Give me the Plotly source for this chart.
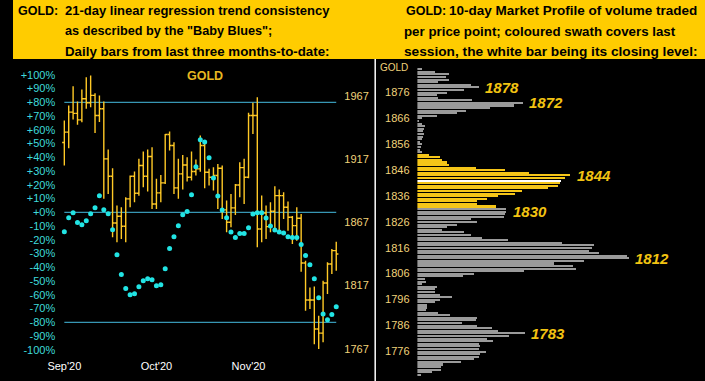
import plotly.graph_objects as go

W, H = 705, 381


def px_x(p):
    return p / W


def px_y(p):
    return 1 - p / H


# ---------------- Left panel data ----------------
bar_open = [1930.0, 1938.2, 1954.0, 1953.0, 1947.9, 1964.5, 1961.4, 1967.2, 1951.3, 1956.6,
            1917.1, 1903.4, 1866.5, 1871.8, 1863.9, 1885.5, 1903.4, 1889.9, 1911.8, 1903.4,
            1918.9, 1881.5, 1890.2, 1898.1, 1936.3, 1927.6, 1894.2, 1905.2, 1912.3, 1902.6,
            1907.1, 1909.2, 1927.6, 1906.5, 1902.6, 1903.9, 1909.7, 1876.8, 1867.0, 1878.4,
            1896.5, 1910.2, 1902.6, 1951.3, 1951.3, 1861.7, 1874.4, 1863.6, 1875.7, 1888.1,
            1888.1, 1878.9, 1871.0, 1864.4, 1870.2, 1834.9, 1805.6, 1805.6, 1782.7, 1779.5,
            1819.1, 1834.1, 1844.6]
bar_high = [1947.4, 1959.2, 1974.5, 1962.4, 1971.9, 1981.6, 1983.0, 1968.9, 1967.2, 1962.4,
            1924.5, 1909.7, 1880.2, 1878.9, 1886.8, 1903.9, 1907.1, 1917.1, 1922.9, 1924.5,
            1926.3, 1901.3, 1904.4, 1936.8, 1938.7, 1930.3, 1917.1, 1920.2, 1918.4, 1922.9,
            1916.6, 1935.5, 1930.3, 1909.2, 1910.5, 1913.1, 1911.8, 1884.2, 1889.4, 1897.3,
            1914.5, 1917.1, 1953.4, 1961.4, 1965.8, 1888.1, 1880.2, 1882.8, 1895.5, 1892.8,
            1890.7, 1883.4, 1872.0, 1878.9, 1873.6, 1836.7, 1815.6, 1816.4, 1793.2, 1820.9,
            1835.4, 1845.9, 1851.7]
bar_low = [1911.8, 1925.5, 1948.2, 1944.0, 1946.0, 1956.6, 1957.9, 1937.6, 1946.1, 1885.5,
           1889.4, 1855.2, 1851.2, 1853.9, 1851.2, 1878.9, 1882.8, 1888.0, 1894.7, 1891.3,
           1877.6, 1877.6, 1882.8, 1897.3, 1923.7, 1889.4, 1885.5, 1892.8, 1899.2, 1900.0,
           1903.9, 1907.0, 1893.9, 1896.0, 1892.1, 1877.6, 1869.7, 1859.1, 1863.1, 1872.8,
           1886.8, 1881.5, 1901.8, 1936.8, 1847.3, 1851.2, 1853.9, 1859.1, 1860.4, 1860.4,
           1869.7, 1860.4, 1849.9, 1852.5, 1828.0, 1797.2, 1798.5, 1770.8, 1766.9, 1772.2,
           1810.4, 1826.2, 1828.8]
bar_close = [1938.2, 1954.0, 1953.0, 1947.9, 1964.5, 1961.4, 1967.2, 1951.3, 1956.6, 1917.1,
             1903.4, 1866.5, 1871.8, 1863.9, 1885.5, 1903.4, 1889.9, 1911.8, 1903.4, 1918.9,
             1881.5, 1890.2, 1898.1, 1936.3, 1927.6, 1894.2, 1905.2, 1912.3, 1902.6, 1907.1,
             1909.2, 1927.6, 1906.5, 1902.6, 1903.9, 1909.7, 1876.8, 1867.0, 1878.4, 1896.5,
             1910.2, 1902.6, 1951.3, 1951.3, 1861.7, 1874.4, 1863.6, 1875.7, 1888.1, 1888.1,
             1878.9, 1871.0, 1864.4, 1870.2, 1834.9, 1805.6, 1805.6, 1782.7, 1779.5, 1819.1,
             1834.1, 1844.6, 1842.0]
trend_pct = [-14.1, -3.9, -0.3, -7.5, -9.0, -6.1, -1.0, 3.4, 12.1, 1.9,
             -1.0, -12.6, -30.8, -45.3, -55.5, -59.9, -59.2, -54.1, -49.7, -48.3,
             -49.0, -53.4, -52.6, -41.0, -26.4, -17.7, -9.7, -1.7, 0.5, 12.8,
             33.2, 52.8, 51.1, 39.7, 24.9, 11.9, 1.7, -3.9, -14.3, -18.4,
             -15.5, -15.5, -11.2, -1.2, -0.3, -0.3, -4.1, -9.9, -12.9, -14.3,
             -15.1, -17.7, -18.4, -18.4, -23.5, -31.5, -38.1, -48.3, -62.1, -74.0,
             -78.1, -74.4, -68.6]
month_ticks = [0, 21, 42]
month_labels = ["Sep'20", "Oct'20", "Nov'20"]
pct_ticks = list(range(-100, 101, 10))
pct_labels = [("+%d%%" % v) if v >= 0 else ("%d%%" % v) for v in pct_ticks]
price_ticks = [1767, 1817, 1867, 1917, 1967]
consistency_levels = [80, 0, -80]

# ---------------- Right panel data ----------------
profile_prices = list(range(1885, 1766, -1))
profile_volume = [5, 18, 33, 30, 33, 21, 55, 63, 48, 31,
                  20, 21, 56, 108, 99, 74, 50, 41, 20, 5,
                  2, 5, 8, 7, 6, 7, 6, 5, 3, 5,
                  4, 3, 5, 12, 23, 25, 31, 33, 60, 90,
                  114, 156, 151, 147, 146, 144, 133, 107, 100, 83,
                  71, 61, 61, 80, 91, 91, 90, 89, 55, 61,
                  41, 31, 25, 48, 55, 66, 93, 148, 180, 178,
                  175, 185, 214, 216, 170, 140, 159, 162, 109, 58,
                  47, 8, 9, 5, 20, 18, 18, 23, 36, 23,
                  18, 10, 10, 9, 21, 34, 61, 60, 46, 61,
                  76, 83, 110, 94, 71, 77, 63, 64, 63, 70,
                  64, 63, 58, 45, 26, 24, 24, 15, 4]
swath_low, swath_high = 1832, 1852
last_close = 1842
profile_ticks = [1776, 1786, 1796, 1806, 1816, 1826, 1836, 1846, 1856, 1866, 1876]
peak_labels = [1878, 1872, 1844, 1830, 1812, 1783]

# ---------------- Styles ----------------
FONT = "Liberation Sans, Arial, sans-serif"
YELLOW_HDR = "#FFCC00"
BAR_Y = "#FFC926"
CYAN = "#22E4E4"
LINE_BLUE = "#45BCE0"
AXIS_CYAN = "#3EDADA"
AXIS_YEL = "#F0D27A"
GRAY = "#9A9A9A"
SWATH = "#F5C518"
LABEL_GOLD = "#F2C312"

n = len(bar_close)
xs = list(range(n))

fig = go.Figure()

fig.add_trace(go.Ohlc(
    x=xs, open=bar_open, high=bar_high, low=bar_low, close=bar_close,
    increasing=dict(line=dict(color=BAR_Y)),
    decreasing=dict(line=dict(color=BAR_Y)),
    line=dict(width=1.4), tickwidth=0.5,
    xaxis="x", yaxis="y", hoverinfo="skip", showlegend=False,
))

fig.add_trace(go.Scatter(
    x=xs, y=trend_pct, mode="markers",
    marker=dict(color=CYAN, size=5, line=dict(width=0)),
    xaxis="x", yaxis="y2", hoverinfo="skip", showlegend=False,
))

colors = []
for p in profile_prices:
    if p == last_close:
        colors.append("#FFFFFF")
    elif swath_low <= p <= swath_high:
        colors.append(SWATH)
    else:
        colors.append(GRAY)

fig.add_trace(go.Bar(
    x=profile_volume, y=profile_prices, orientation="h",
    marker=dict(color=colors, line=dict(width=0)), width=0.6,
    xaxis="x3", yaxis="y3", hoverinfo="skip", showlegend=False,
))

# geometry (pixels)
L_X0, L_X1 = 48, 334
L_Y0, L_Y1 = 62, 358
bar_x_first, bar_px = 52.3, 4.468
x_lo = (L_X0 - bar_x_first) / bar_px
x_hi = (L_X1 - bar_x_first) / bar_px

pct_zero_px, pct_scale = 212.3, 1.375
pct_top = (pct_zero_px - L_Y0) / pct_scale
pct_bot = (pct_zero_px - L_Y1) / pct_scale

pr_ref_px, pr_ref, pr_scale = 222.3, 1867, 1.2665
pr_top = pr_ref + (pr_ref_px - L_Y0) / pr_scale
pr_bot = pr_ref - (L_Y1 - pr_ref_px) / pr_scale

R_X0, R_X1 = 412, 705
R_Y0, R_Y1 = 62, 378
mp_ref_px, mp_ref, mp_scale = 170, 1846, 2.59
mp_top = mp_ref + (mp_ref_px - R_Y0) / mp_scale
mp_bot = mp_ref - (R_Y1 - mp_ref_px) / mp_scale

fig.update_layout(
    width=W, height=H, margin=dict(l=0, r=0, t=0, b=0),
    paper_bgcolor="black", plot_bgcolor="black",
    font=dict(family=FONT),
    xaxis=dict(domain=[px_x(L_X0), px_x(L_X1)], range=[x_lo, x_hi],
               tickvals=month_ticks, ticktext=month_labels,
               tickfont=dict(color="white", size=11, family=FONT),
               showgrid=False, zeroline=False, showline=False, ticks="",
               rangeslider=dict(visible=False), anchor="y"),
    yaxis=dict(domain=[px_y(L_Y1), px_y(L_Y0)], range=[pr_bot, pr_top],
               side="right", anchor="free", position=px_x(336.5),
               tickvals=price_ticks, ticktext=[str(v) for v in price_ticks],
               tickfont=dict(color=AXIS_YEL, size=11, family=FONT),
               showgrid=False, zeroline=False, showline=False, ticks=""),
    yaxis2=dict(overlaying="y", range=[pct_bot, pct_top],
                side="left", anchor="free", position=px_x(43),
                tickvals=pct_ticks, ticktext=pct_labels,
                tickfont=dict(color=AXIS_CYAN, size=11, family=FONT),
                showgrid=False, zeroline=False, showline=False, ticks=""),
    xaxis3=dict(domain=[px_x(R_X0), px_x(R_X1)], range=[0, R_X1 - R_X0],
                visible=False, anchor="y3"),
    yaxis3=dict(domain=[px_y(R_Y1), px_y(R_Y0)], range=[mp_bot, mp_top],
                side="left", anchor="free", position=px_x(404),
                tickvals=profile_ticks, ticktext=[str(v) for v in profile_ticks],
                tickfont=dict(color=AXIS_YEL, size=11, family=FONT),
                showgrid=False, zeroline=False, showline=False, ticks=""),
    bargap=0,
)

shapes = [
    dict(type="rect", xref="paper", yref="paper", x0=0, x1=1, y0=px_y(59), y1=1,
         fillcolor=YELLOW_HDR, line=dict(width=0), layer="below"),
    dict(type="line", xref="paper", yref="paper", x0=px_x(369), x1=px_x(369),
         y0=0, y1=px_y(59), line=dict(color="white", width=1.5)),
]
for lv in consistency_levels:
    shapes.append(dict(type="line", xref="x", yref="y2", x0=0, x1=n - 1, y0=lv, y1=lv,
                       line=dict(color=LINE_BLUE, width=1), layer="below"))
fig.update_layout(shapes=shapes)

ann = []
hdr_rows = [11, 31.5, 51.5]


def hdr(text, x, y, size):
    ann.append(dict(text="<b>%s</b>" % text, x=px_x(x), y=px_y(y), xref="paper", yref="paper",
                    xanchor="left", yanchor="middle", showarrow=False,
                    font=dict(family=FONT, size=size, color="black")))


hdr("GOLD:", 3, hdr_rows[0], 12.5)
hdr("21-day linear regression trend consistency", 51, hdr_rows[0], 13.0)
hdr("as described by the \"Baby Blues\";", 51, hdr_rows[1], 12.7)
hdr("Daily bars from last three months-to-date:", 51, hdr_rows[2], 13.3)
hdr("GOLD:", 398, hdr_rows[0], 12.5)
hdr("10-day Market Profile of volume traded", 442, hdr_rows[0], 13.5)
hdr("per price point; coloured swath covers last", 396, hdr_rows[1], 13.3)
hdr("session, the white bar being its closing level:", 396, hdr_rows[2], 13.7)

ann.append(dict(text="<b>GOLD</b>", x=px_x(195.5), y=px_y(76), xref="paper", yref="paper",
                xanchor="center", yanchor="middle", showarrow=False,
                font=dict(family=FONT, size=12.5, color="#E8B820")))
ann.append(dict(text="GOLD", x=px_x(388), y=px_y(67), xref="paper", yref="paper",
                xanchor="center", yanchor="middle", showarrow=False,
                font=dict(family=FONT, size=10, color=AXIS_YEL)))

vol_at = dict(zip(profile_prices, profile_volume))
for pk in peak_labels:
    ann.append(dict(text="<b><i>%d</i></b>" % pk, x=vol_at[pk], y=pk, xref="x3", yref="y3",
                    xanchor="left", yanchor="middle", xshift=4, showarrow=False,
                    font=dict(family=FONT, size=15, color=LABEL_GOLD)))
fig.update_layout(annotations=ann)

fig.write_html("out.html", config={"displayModeBar": False},
               post_script="document.body.style.margin='0';document.body.style.padding='0';")
